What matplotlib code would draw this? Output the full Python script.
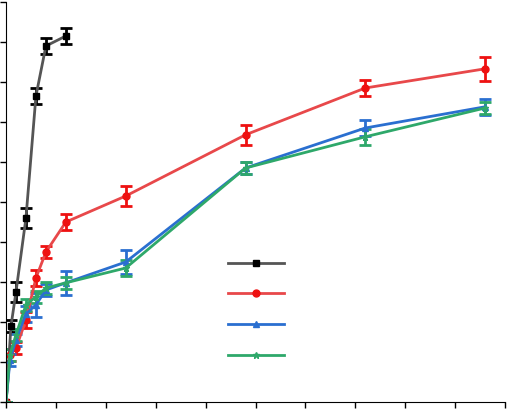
import matplotlib
matplotlib.use("Agg")
import matplotlib.pyplot as plt

x_black = [0, 0.1, 0.2, 0.4, 0.6, 0.8, 1.2]
y_black = [0, 1.9, 2.75, 4.6, 7.65, 8.9, 9.15]
e_black = [0, 0.15, 0.25, 0.25, 0.2, 0.2, 0.2]

x_all = [0, 0.08, 0.2, 0.4, 0.6, 0.8, 1.2, 2.4, 4.8, 7.2, 9.6]
y_red = [0, 1.18, 1.35, 2.05, 3.1, 3.75, 4.5, 5.15, 6.68, 7.85, 8.33]
e_red = [0, 0.15, 0.15, 0.2, 0.2, 0.15, 0.2, 0.25, 0.25, 0.2, 0.3]
y_blue = [0, 1.05, 1.55, 2.2, 2.43, 2.8, 2.98, 3.5, 5.85, 6.85, 7.38]
e_blue = [0, 0.15, 0.15, 0.2, 0.3, 0.15, 0.3, 0.3, 0.15, 0.2, 0.2]
y_green = [0, 1.18, 1.68, 2.43, 2.63, 2.85, 2.98, 3.35, 5.85, 6.63, 7.35]
e_green = [0, 0.15, 0.15, 0.15, 0.15, 0.15, 0.15, 0.2, 0.15, 0.2, 0.15]

fig = plt.figure(figsize=(5.07, 4.09), dpi=100)
ax = fig.add_axes([6 / 507, 7 / 409, 499 / 507, 400 / 409])

style = dict(capsize=4, capthick=2, elinewidth=2, lw=2, markersize=5)
h1 = ax.errorbar(x_black, y_black, yerr=e_black, color="#555555", marker="s",
                 mfc="black", mec="black", ecolor="black", **style)
h2 = ax.errorbar(x_all, y_red, yerr=e_red, color="#e8484a", marker="o",
                 mfc="#ee1111", mec="#ee1111", ecolor="#ee1111", **style)
h3 = ax.errorbar(x_all, y_blue, yerr=e_blue, color="#2a6fd0", marker="^",
                 ecolor="#2a6fd0", **style)
h4 = ax.errorbar(x_all, y_green, yerr=e_green, color="#2ea86a", marker="*",
                 ecolor="#2ea86a", **style)

leg = ax.legend([h1[0], h2[0], h3[0], h4[0]], ["", "", "", ""], frameon=False,
                handlelength=4, labelspacing=1.2, bbox_to_anchor=(0.42, 0.395),
                loc="upper left", handletextpad=0)

ax.set_xlim(0, 10)
ax.set_ylim(0, 10)
ax.set_xticks(range(11))
ax.set_yticks(range(11))
ax.set_xticklabels([])
ax.set_yticklabels([])
ax.tick_params(direction="out", length=4, width=1)
for s in ("top", "right"):
    ax.spines[s].set_visible(False)

fig.savefig("out.png", dpi=100)
